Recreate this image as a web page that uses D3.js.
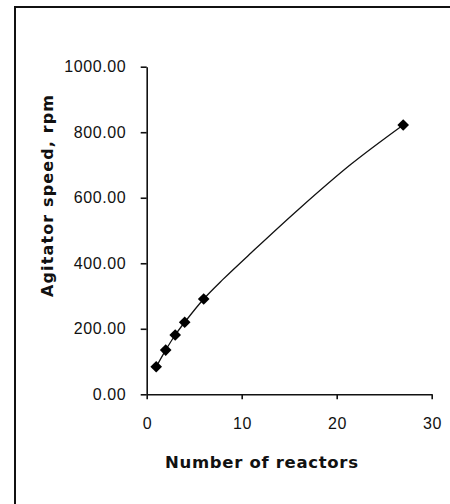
<!DOCTYPE html>
<html><head><meta charset="utf-8">
<script src="https://cdn.jsdelivr.net/npm/d3@7"></script>
<style>body{margin:0;background:#fff}svg{display:block}</style>
</head><body>
<script>
// measured data points (markers)
const reactors = [1, 2, 3, 4, 6, 27];
const speeds = [84, 135, 181, 220, 291, 822];
// smoothed line (passes through markers)
const curveReactors = [1, 2, 3, 4, 6, 8, 11, 16, 21.5, 27];
const curveSpeeds = [84, 135, 181, 220, 291, 350, 432, 565, 702, 822];
const xTicks = [0, 10, 20, 30];
const yTicks = [0, 200, 400, 600, 800, 1000];

const W = 450, H = 504;
const FONT = "Arial, 'Liberation Sans', Helvetica, sans-serif";
const TFONT = "'DejaVu Sans', Arial, sans-serif";
const svg = d3.select("body").append("svg").attr("width", W).attr("height", H);

// frame (left + top borders visible)
svg.append("line").attr("x1", 15).attr("x2", 15).attr("y1", 6).attr("y2", H).attr("stroke", "#111").attr("stroke-width", 2);
svg.append("line").attr("x1", 14).attr("x2", W).attr("y1", 7).attr("y2", 7).attr("stroke", "#111").attr("stroke-width", 2);

const x = d3.scaleLinear().domain([0, 30]).range([146.7, 431.7]);
const y = d3.scaleLinear().domain([0, 1000]).range([394.3, 66.7]);

const fmt = d3.format(".2f");
const yAxis = d3.axisLeft(y).tickValues(yTicks).tickFormat(fmt).tickSize(6).tickSizeOuter(0).tickPadding(15);
const xAxis = d3.axisBottom(x).tickValues(xTicks).tickFormat(d3.format("d")).tickSize(5).tickSizeOuter(0).tickPadding(18);

const gy = svg.append("g").attr("transform", `translate(${x(0)},0)`).call(yAxis);
const gx = svg.append("g").attr("transform", `translate(0,${y(0)})`).call(xAxis);
[gy, gx].forEach(g => {
  g.selectAll("path,line").attr("stroke", "#111").attr("stroke-width", 1.6);
  g.selectAll("text").attr("fill", "#111").style("font-family", FONT)
    .style("font-size", "16px").style("letter-spacing", "0.6px");
});
gy.selectAll("text").attr("dx", "0.6px");
gx.selectAll("text").attr("dx", "0.3px");

const curvePts = curveReactors.map((r, i) => [r, curveSpeeds[i]]);
const line = d3.line().x(d => x(d[0])).y(d => y(d[1])).curve(d3.curveCatmullRom.alpha(0.5));
svg.append("path").datum(curvePts).attr("d", line).attr("fill", "none").attr("stroke", "#111").attr("stroke-width", 1.3);

const pts = reactors.map((r, i) => [r, speeds[i]]);
const sym = d3.symbol().type(d3.symbolSquare).size(68);
svg.selectAll("path.m").data(pts).join("path").attr("class", "m")
  .attr("d", sym).attr("fill", "#000")
  .attr("transform", d => `translate(${x(d[0])},${y(d[1])}) rotate(45)`);

function fitText(t, target) {
  const n = t.text().length;
  const len = t.node().getComputedTextLength();
  const ls = (target - len) / (n - 1);
  t.style("letter-spacing", ls + "px");
  return ls;
}
const xt = svg.append("text").attr("x", 261.5).attr("y", 468).attr("text-anchor", "middle")
  .style("font-family", TFONT).style("font-weight", "bold").style("font-size", "16.5px")
  .attr("fill", "#111").text("Number of reactors");
const ls1 = fitText(xt, 193);
xt.attr("dx", ls1 / 2);
const yt = svg.append("text").attr("transform", "translate(53,196) rotate(-90)").attr("text-anchor", "middle")
  .style("font-family", TFONT).style("font-weight", "bold").style("font-size", "16px")
  .attr("fill", "#111").text("Agitator speed, rpm");
const ls2 = fitText(yt, 202);
yt.attr("dx", ls2 / 2);
</script>
</body></html>
